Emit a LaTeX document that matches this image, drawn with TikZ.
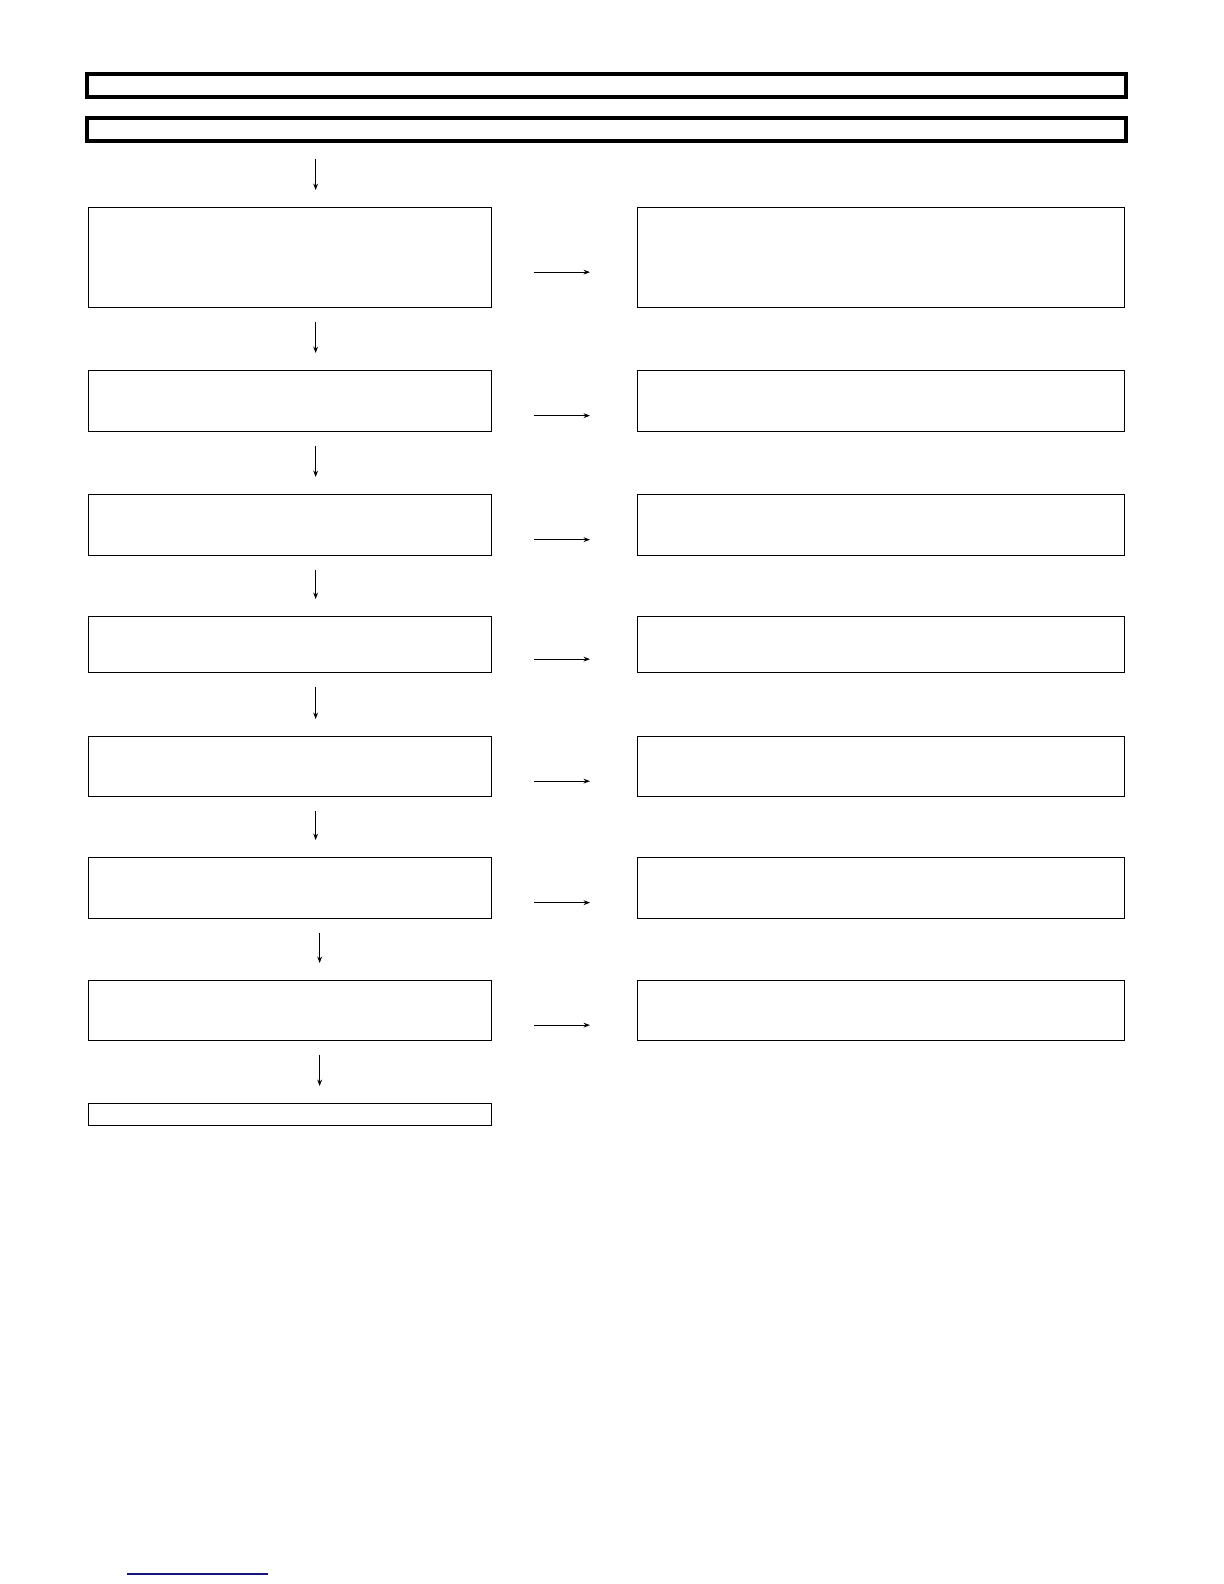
\documentclass[tikz,border=0pt]{standalone}
\usetikzlibrary{arrows.meta}
\definecolor{linkblue}{RGB}{20,20,130}
\tikzset{
  box/.style={draw, line width=0.65bp, inner sep=0pt, anchor=north west},
  titlebox/.style={draw, line width=2bp, inner sep=0pt, minimum width=519.5bp, minimum height=11.5bp},
  flow/.style={-{Stealth[length=3.2bp,width=2.4bp]}, line width=0.6bp}
}
\begin{document}
\begin{tikzpicture}[x=0.5bp, y=-0.5bp]
   \useasboundingbox (0,0) rectangle (1224,1584);
   % header bars
   \node[titlebox] (head1) at (606.5,85.5) {};
   \node[titlebox] (head2) at (606.5,129.5) {};
   % left and right columns
   \foreach \i/\t/\h in {1/207/100, 2/370/61, 3/494/61, 4/616/56, 5/736/60, 6/857/61, 7/980/60} {
      \node[box, minimum width=201.5bp, minimum height=\h*0.5bp] (L\i) at (88,\t) {};
      \node[box, minimum width=243.5bp, minimum height=\h*0.5bp] (R\i) at (637,\t) {};
      \draw[flow, shorten <=21bp, shorten >=23.5bp] ([yshift=-7.25bp]L\i.east) -- ([yshift=-7.25bp]L\i.east -| R\i.west);
   }
   \node[box, minimum width=201.5bp, minimum height=11bp] (L8) at (88,1103) {};
   % down arrows
   \draw[flow, shorten <=8bp, shorten >=8.5bp] ([xshift=12.75bp]L1.north |- head2.south) -- ([xshift=12.75bp]L1.north);
   \foreach \i/\j in {1/2, 2/3, 3/4, 4/5, 5/6}
      \draw[flow, shorten <=7bp, shorten >=8.5bp] ([xshift=12.75bp]L\i.south) -- ([xshift=12.75bp]L\j.north);
   \foreach \i/\j in {6/7, 7/8}
      \draw[flow, shorten <=7bp, shorten >=8.5bp] ([xshift=14.75bp]L\i.south) -- ([xshift=14.75bp]L\j.north);
   % link underline
   \draw[linkblue, line width=0.8bp] (127,1574) -- (268,1574);
\end{tikzpicture}
\end{document}
